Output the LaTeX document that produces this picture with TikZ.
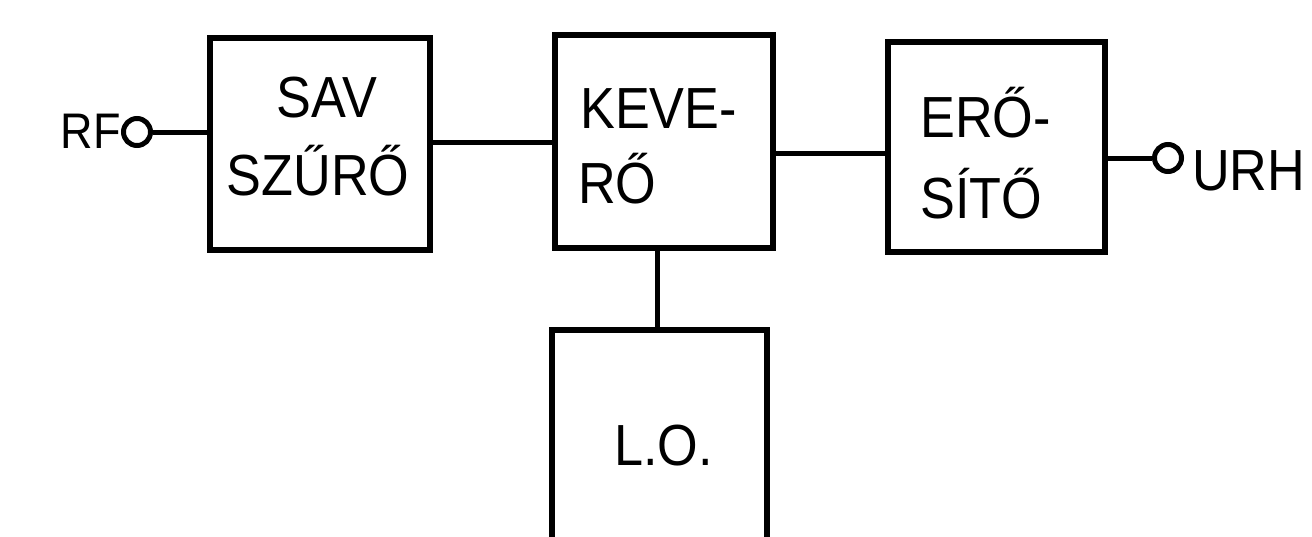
\documentclass[tikz,border=0pt]{standalone}
\usepackage{fontspec}
\setmainfont[FakeStretch=0.9]{Liberation Sans}
\begin{document}
\begin{tikzpicture}[x=1pt,y=-1pt,
  blk/.style={draw=black, line width=6.5pt, fill=none, inner sep=0pt},
  wire/.style={draw=black, line width=5pt},
  term/.style={circle, draw=black, line width=5pt, minimum size=27pt, inner sep=0pt},
  lbl/.style={inner sep=0pt, font=\fontsize{58}{60}\selectfont},
  lblsmall/.style={inner sep=0pt, font=\fontsize{50}{52}\selectfont}]
\useasboundingbox[fill=white] (0,0) rectangle (1312,536);
\clip (0,0) rectangle (1312,536);
% blocks
\node[blk, minimum width=220pt, minimum height=212pt] (sav) at (320,144) {};
\node[blk, minimum width=218pt, minimum height=213pt] (kev) at (664,141.5) {};
\node[blk, minimum width=217pt, minimum height=210pt] (ero) at (996.5,147) {};
\node[blk, minimum width=215pt, minimum height=240pt] (lo) at (659.5,450) {};
% terminals
\node[term] (rfc) at (137,132) {};
\node[term] (urhc) at (1168,158) {};
% junction coordinates
\coordinate (y1) at (0,142);
\coordinate (y2) at (0,153);
\coordinate (x4) at (657,0);
% labels
\node[lbl, anchor=base] (t1) at (327,117) {SAV};
\node[lbl, anchor=base] (t2) at (318,195) {SZŰRŐ};
\node[lbl, anchor=base west] (t3) at (580,128) {KEVE-};
\node[lbl, anchor=base west] (t4) at (578,203) {RŐ};
\node[lbl, anchor=base west] (t5) at (920,137) {ERŐ-};
\node[lbl, anchor=base west] (t6) at (920,218) {SÍTŐ};
\node[lbl, anchor=base west] (t7) at (614,465) {L.O.};
\node[lbl, anchor=base west] (t8) at (1192,190) {URH};
\node[lblsmall, anchor=base east] (t9) at (121,148) {RF};
% connectors
\draw[wire] (rfc.east) -- (rfc.east -| sav.west);
\draw[wire] (sav.east |- y1) -- (kev.west |- y1);
\draw[wire] (kev.east |- y2) -- (ero.west |- y2);
\draw[wire] (urhc.west -| ero.east) -- (urhc.west);
\draw[wire] (kev.south -| x4) -- (lo.north -| x4);
\end{tikzpicture}
\end{document}
